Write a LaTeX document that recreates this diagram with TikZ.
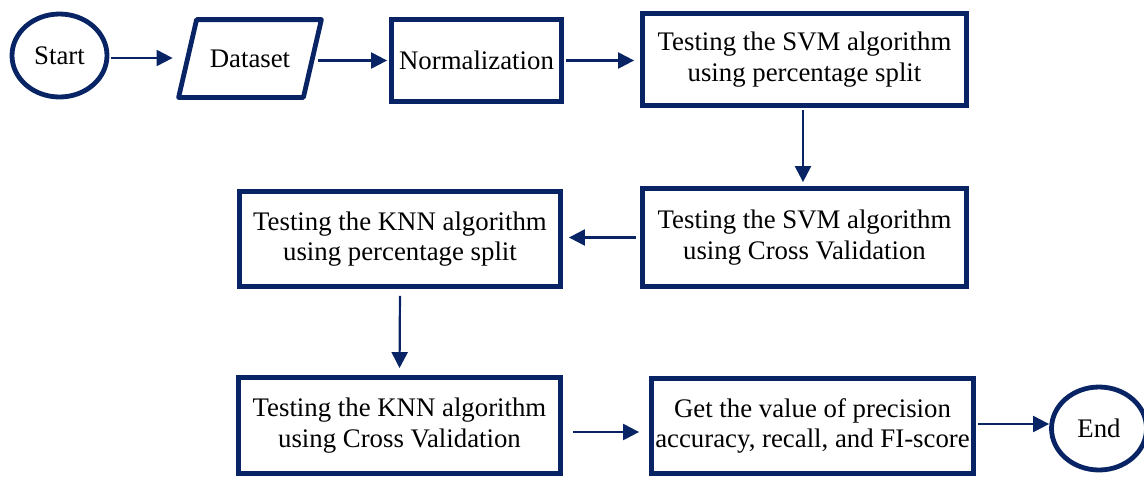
\documentclass[tikz,border=0pt]{standalone}
\usepackage{fontspec}
\setmainfont{Liberation Serif}
\usetikzlibrary{shapes.geometric,arrows.meta}
\definecolor{navy}{RGB}{8,36,100}
\tikzset{
  every node/.style={font=\fontsize{13.4}{15.2}\selectfont, align=center, inner sep=0pt},
  proc/.style={draw=navy, line width=2.4pt, rectangle, fill=white},
  term/.style={draw=navy, line width=2.4pt, ellipse, minimum width=47.5pt, minimum height=41.5pt},
  iobody/.style={rectangle, minimum width=71pt, minimum height=38.5pt},
  ioline/.style={draw=navy, line width=2.4pt, line join=round},
  arr/.style={draw=navy, line width=1.1pt, -{Triangle[length=8pt,width=8pt]}}
}
\begin{document}
\begin{tikzpicture}[x=0.5pt,y=-0.5pt]
\useasboundingbox (0,0) rectangle (1144,477);
% flow shapes
\node[term] (start) at (59.5,55.5) {Start};
\node[iobody] (data) at (250,58.5) {Dataset};
\draw[ioline] (data.south west) -- ([xshift=9pt]data.north west) -- (data.north east)
  -- ([xshift=-9pt]data.south east) -- cycle;
\node[proc, minimum width=85pt, minimum height=41pt] (norm) at (476.5,60.5) {Normalization};
\node[proc, minimum width=162pt, minimum height=46pt] (svmps) at (804.5,59.5)
  {Testing the SVM algorithm\\using percentage split};
\node[proc, minimum width=162pt, minimum height=49pt] (svmcv) at (804.5,237.5)
  {Testing the SVM algorithm\\using Cross Validation};
\node[proc, minimum width=160.5pt, minimum height=47.5pt] (knnps) at (400,239)
  {Testing the KNN algorithm\\using percentage split};
\node[proc, minimum width=161pt, minimum height=48pt] (knncv) at (399.5,425.5)
  {Testing the KNN algorithm\\using Cross Validation};
\node[proc, minimum width=161pt, minimum height=47.5pt] (get) at (812.5,426)
  {Get the value of precision\\accuracy, recall, and FI-score};
\node[term] (end) at (1099,428.5) {End};
% connectors
\draw[arr, shorten <=1pt, shorten >=3pt] ([yshift=-1.25pt]start.east) -- ([yshift=-1.25pt]start.east -| data.west);
\draw[arr, shorten <=3pt, shorten >=1pt] ([xshift=-4.5pt,yshift=-1pt]data.east) -- ([yshift=-1pt]data.east -| norm.west);
\draw[arr, shorten <=1pt, shorten >=3pt] (norm.east) -- (norm.east -| svmps.west);
\draw[arr, shorten <=1pt, shorten >=2pt] ([xshift=-0.75pt]svmps.south) -- ([xshift=-0.75pt]svmcv.north);
\draw[arr, shorten <=2pt, shorten >=3pt] (svmcv.west) -- (svmcv.west -| knnps.east);
\draw[arr, shorten <=3.5pt, shorten >=3.5pt] (knnps.south) -- (knncv.north);
\draw[arr, shorten <=5pt, shorten >=5pt] ([yshift=-3.25pt]knncv.east) -- ([yshift=-3.25pt]knncv.east -| get.west);
\draw[arr, shorten <=1pt, shorten >=0pt] ([yshift=1pt]get.east) -- ([yshift=1pt]get.east -| end.west);
\end{tikzpicture}
\end{document}
